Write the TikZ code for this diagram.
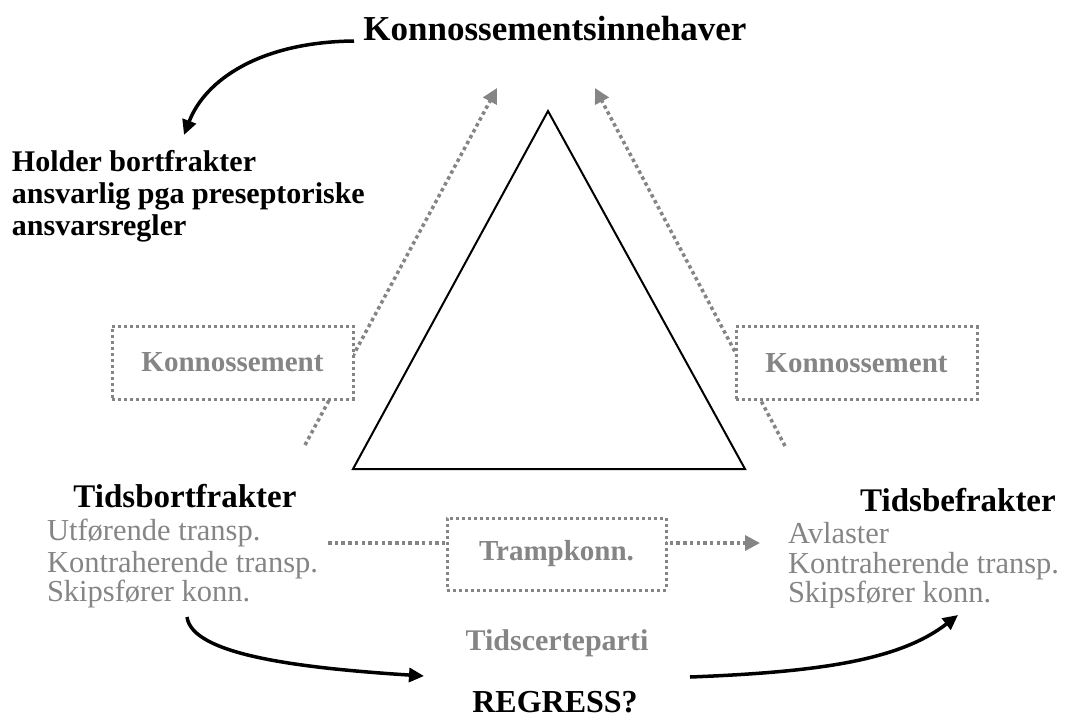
\documentclass[tikz,border=0pt]{standalone}
\usepackage{fontspec}
\setmainfont{Liberation Serif}
\usetikzlibrary{arrows.meta}
\definecolor{tgray}{HTML}{858585}
\begin{document}
\begin{tikzpicture}[x=1pt,y=-1pt,
  every node/.style={inner sep=0pt, outer sep=0pt},
  title/.style={font=\fontsize{35}{40}\selectfont\bfseries},
  note/.style={font=\fontsize{30}{32}\selectfont\bfseries, anchor=base west},
  party/.style={font=\fontsize{33}{38}\selectfont\bfseries},
  role/.style={font=\fontsize{30.5}{32}\selectfont, text=tgray, anchor=base west},
  doclabel/.style={font=\fontsize{30}{32}\selectfont\bfseries, text=tgray},
  dotbox/.style={draw=tgray, line width=3pt, dash pattern=on 3pt off 3pt,
    fill=white, minimum width=241pt, minimum height=73pt,
    font=\fontsize{29}{32}\selectfont\bfseries, text=tgray},
  dotline/.style={draw=tgray, line width=3.5pt, dash pattern=on 3.5pt off 3.2pt,
    -{Triangle[length=15pt,width=15pt]}},
  blackarrow/.style={line width=3.5pt, -{Triangle[length=15pt,width=14pt]}},
]
\useasboundingbox (0,0) rectangle (1065,720);

% the triangle in the middle
\coordinate (apex) at (548,111);
\coordinate (bl) at (353,469);
\coordinate (br) at (745,469);
\draw[line width=2pt, line join=miter] (apex) -- (bl) -- (br) -- cycle;

% top party and its remark
\node[title, anchor=base] (holder) at (555,40) {Konnossementsinnehaver};
\node[note] (n1) at (12,171) {Holder bortfrakter};
\node[note] (n2) at (12,203) {ansvarlig pga preseptoriske};
\node[note] (n3) at (12,235) {ansvarsregler};
\coordinate (h0) at (354,41);
\coordinate (h1) at (184,135);
\draw[blackarrow] (h0) .. controls (260,42) and (205,80) .. (h1);

% bills of lading running up to the holder
\coordinate (l0) at (305,445);
\coordinate (l1) at (497,88);
\coordinate (r0) at (785,446);
\coordinate (r1) at (595,88);
\draw[dotline] (l0) -- (l1);
\draw[dotline] (r0) -- (r1);
\node[dotbox] (kl) at (232.5,362.5) {Konnossement};
\node[dotbox] (kr) at (856.5,363) {Konnossement};

% lower left party
\node[party, anchor=base] (tbf) at (185,507) {Tidsbortfrakter};
\node[role] (u1) at (47,540) {Utførende transp.};
\node[role] (u2) at (47,572) {Kontraherende transp.};
\node[role] (u3) at (47,601) {Skipsfører konn.};

% lower right party
\node[party, anchor=base] (tbe) at (958,511) {Tidsbefrakter};
\begin{scope}
  \clip (760,470) rectangle (1065,607);
  \node[role] (a1) at (788,543) {Avlaster};
  \node[role] (a2) at (788,573) {Kontraherende transp.};
  \node[role] (a3) at (788,602) {Skipsfører konn.};
\end{scope}

% tramp bill between the parties
\coordinate (t0) at (328,543);
\coordinate (t1) at (760,543);
\draw[dotline] (t0) -- (t1);
\node[dotbox, minimum width=219pt, minimum height=72pt] (tk) at (556.5,554) {Trampkonn.};

% charter party and recourse
\node[doclabel, anchor=base] (tc) at (557,650) {Tidscerteparti};
\node[party, font=\fontsize{32}{36}\selectfont\bfseries, anchor=base] (reg) at (555,712) {REGRESS?};
\coordinate (g0) at (187,617);
\coordinate (g1) at (424,676);
\coordinate (g2) at (690,677);
\coordinate (g3) at (958,615);
\draw[blackarrow] (g0) .. controls (192,655) and (300,668) .. (g1);
\draw[blackarrow] (g2) .. controls (820,672) and (900,660) .. (g3);
\end{tikzpicture}
\end{document}
